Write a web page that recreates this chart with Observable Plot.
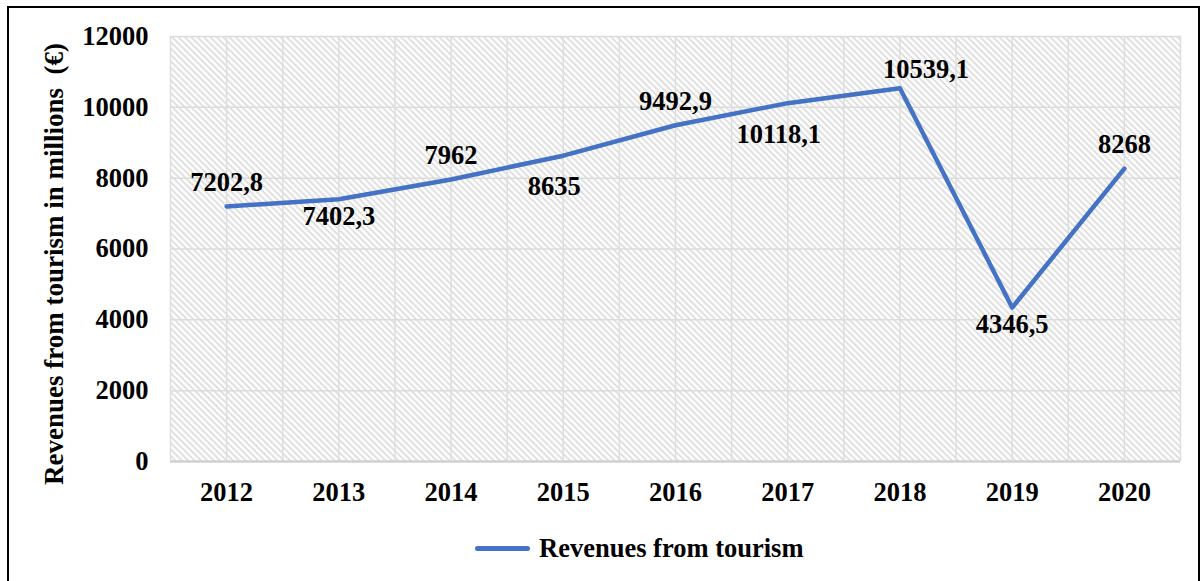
<!DOCTYPE html>
<html>
<head>
<meta charset="utf-8">
<script src="https://cdn.jsdelivr.net/npm/d3@7"></script>
<script src="https://cdn.jsdelivr.net/npm/@observablehq/plot@0.6"></script>
<style>
  html, body { margin: 0; padding: 0; background: #fff; }
  #wrap { position: relative; width: 1203px; height: 581px; overflow: hidden; font-family: "Liberation Serif", "Times New Roman", serif; }
  #border { position: absolute; left: 7px; top: 6px; width: 1193px; height: 590px; border: 2px solid #000; box-sizing: border-box; }
  #chart { position: absolute; left: 0; top: 0; }
  #legend { position: absolute; left: 475px; top: 532px; height: 32px; display: flex; align-items: center; font-weight: bold; font-size: 26.5px; color: #000; }
  #legend .swatch { width: 55px; height: 5px; background: #4472C4; border-radius: 3px; margin-right: 9px; }
</style>
</head>
<body>
<div id="wrap">
  <div id="border"></div>
  <div id="chart"></div>
  <div id="legend"><span class="swatch"></span><span id="legendText"></span></div>
</div>
<script>
const years = [2012, 2013, 2014, 2015, 2016, 2017, 2018, 2019, 2020];
const revenues = [7202.8, 7402.3, 7962, 8635, 9492.9, 10118.1, 10539.1, 4346.5, 8268];
const valueLabels = ["7202,8", "7402,3", "7962", "8635", "9492,9", "10118,1", "10539,1", "4346,5", "8268"];
const yTicks = [0, 2000, 4000, 6000, 8000, 10000, 12000];
const seriesName = "Revenues from tourism";
const yTitle = "Revenues from tourism in millions  (€)";

const data = years.map((year, i) => ({year, value: revenues[i], label: valueLabels[i], i}));
const vGrid = years.flatMap(y => [y - 0.5, y]).concat([years[years.length - 1] + 0.5]);

const font = "'Liberation Serif', 'Times New Roman', serif";
const blue = "#4472C4";

const above = data.filter(d => d.i % 2 === 0 && d.i !== 6);
const peak = data.filter(d => d.i === 6);
const belowSmall = data.filter(d => d.i === 1 || d.i === 7);
const belowLarge = data.filter(d => d.i === 3 || d.i === 5);

const textOpts = {fontSize: 26.5, fontWeight: "bold", fill: "#000", fontFamily: font, textAnchor: "middle"};

const chart = Plot.plot({
  width: 1203,
  height: 520,
  marginTop: 36,
  marginBottom: 59,
  marginLeft: 170,
  marginRight: 23,
  style: {fontFamily: font, fontSize: "26.5px", fontWeight: "bold", color: "#000", background: "transparent"},
  x: {domain: [years[0] - 0.5, years[years.length - 1] + 0.5], ticks: years, tickFormat: d => String(d), tickSize: 0, tickPadding: 21, label: null},
  y: {domain: [0, 12000], ticks: yTicks, tickSize: 0, tickPadding: 22, label: null, tickFormat: d => String(d)},
  marks: [
    Plot.frame({fill: "url(#hatch)", stroke: "none"}),
    Plot.ruleY(yTicks.slice(1), {stroke: "#dcdcdc", strokeWidth: 1.5}),
    Plot.ruleX(vGrid, {stroke: "#dedede", strokeWidth: 1.5}),
    Plot.ruleY([0], {stroke: "#d0d0d0", strokeWidth: 2.5}),
    Plot.line(data, {x: "year", y: "value", stroke: blue, strokeWidth: 4.5, strokeLinejoin: "round", strokeLinecap: "round"}),
    Plot.text(above, {x: "year", y: "value", text: "label", dy: -24, ...textOpts}),
    Plot.text(peak, {x: "year", y: "value", text: "label", dy: -19, dx: 26, ...textOpts}),
    Plot.text(belowSmall, {x: "year", y: "value", text: "label", dy: 17, ...textOpts}),
    Plot.text(belowLarge, {x: "year", y: "value", text: "label", dy: 31, dx: -9, ...textOpts}),
    Plot.text([yTitle], {frameAnchor: "left", text: d => d, rotate: -90, dx: -116, dy: 15, fontSize: 27, fontWeight: "bold", fill: "#000", fontFamily: font, textAnchor: "middle"}),
    Plot.axisX({ticks: years, tickFormat: d => String(d), tickSize: 0, tickPadding: 21, label: null}),
    Plot.axisY({ticks: yTicks, tickSize: 0, tickPadding: 22, label: null, tickFormat: d => String(d)})
  ]
});

const svgNS = "http://www.w3.org/2000/svg";
const defs = document.createElementNS(svgNS, "defs");
const pattern = document.createElementNS(svgNS, "pattern");
pattern.setAttribute("id", "hatch");
pattern.setAttribute("patternUnits", "userSpaceOnUse");
pattern.setAttribute("width", "4.5");
pattern.setAttribute("height", "4.5");
pattern.setAttribute("patternTransform", "rotate(-45)");
const bg = document.createElementNS(svgNS, "rect");
bg.setAttribute("width", "4.5"); bg.setAttribute("height", "4.5"); bg.setAttribute("fill", "#fcfcfc");
const ln = document.createElementNS(svgNS, "line");
ln.setAttribute("x1", "1"); ln.setAttribute("y1", "-1"); ln.setAttribute("x2", "1"); ln.setAttribute("y2", "6");
ln.setAttribute("stroke", "#dadada"); ln.setAttribute("stroke-width", "1.5");
pattern.appendChild(bg); pattern.appendChild(ln); defs.appendChild(pattern);
chart.insertBefore(defs, chart.firstChild);

document.getElementById("chart").appendChild(chart);
document.getElementById("legendText").textContent = seriesName;
</script>
</body>
</html>
